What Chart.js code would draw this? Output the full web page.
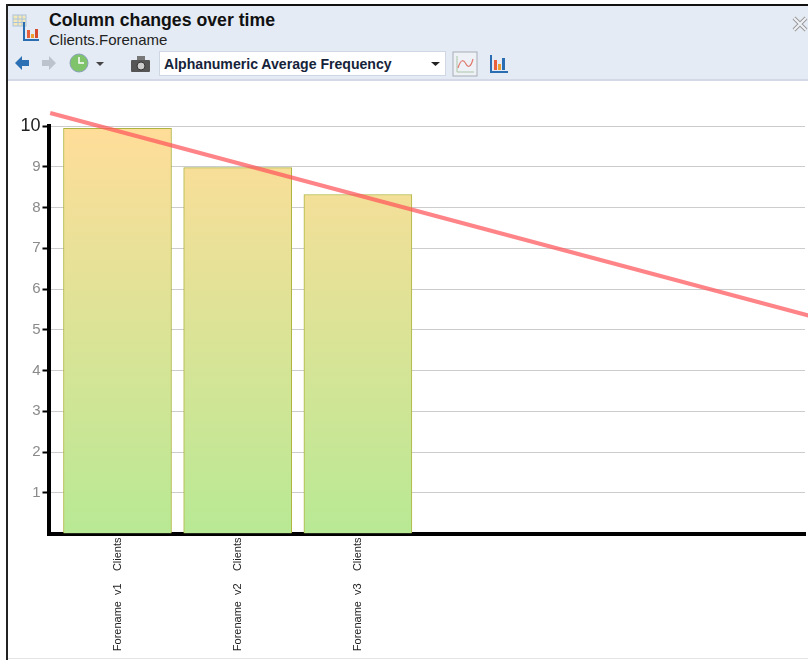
<!DOCTYPE html>
<html><head><meta charset="utf-8">
<script src="https://cdn.jsdelivr.net/npm/chart.js@4"></script>
<style>
html,body{margin:0;padding:0;background:#fff;overflow:hidden}
body{width:808px;height:660px;position:relative;font-family:"Liberation Sans",Arial,sans-serif}
#frameT{position:absolute;left:6px;top:4px;width:802px;height:2px;background:#111}
#frameL{position:absolute;left:6px;top:4px;width:2px;height:656px;background:#222}
#frameB{position:absolute;left:8px;top:658px;width:800px;height:1px;background:#e4e4e4}
#head{position:absolute;left:8px;top:6px;width:800px;height:73px;background:#e4ebf4;border-bottom:2px solid #d5d8e6}
#title{position:absolute;left:49px;top:10px;font-size:17.7px;line-height:20px;font-weight:bold;color:#111}
#sub{position:absolute;left:49px;top:31px;font-size:15px;line-height:17px;color:#222}
#sel{position:absolute;left:159px;top:51px;width:285px;height:23px;background:#fff;border:1px solid #cfd6e4;font-size:14.1px;font-weight:bold;color:#15233a;line-height:24px;text-indent:4px}
svg{position:absolute;left:0;top:0}
canvas{position:absolute;left:0;top:0}
</style></head>
<body>
<div id="frameT"></div><div id="frameL"></div><div id="head"></div><div id="frameB"></div>
<div id="title">Column changes over time</div>
<div id="sub">Clients.Forename</div>
<div id="sel">Alphanumeric Average Frequency</div>
<svg width="808" height="90" viewBox="0 0 808 90">
  <rect x="13" y="15" width="13" height="11" fill="#f6e7b8" stroke="#a9c4dc"/>
  <path d="M13 19h13M13 22.500h13M18 15v11M22 15v11" stroke="#a9c4dc" fill="none"/>
  <path d="M24 22v18h15" stroke="#2a6db0" stroke-width="2" fill="none"/>
  <rect x="27" y="30" width="3" height="8" fill="#e8603c"/><rect x="31" y="34" width="3" height="4" fill="#f0a030"/><rect x="35" y="29" width="3" height="9" fill="#d84a30"/>
  <path d="M15 63l7-7v4h7v6h-7v4z" fill="#2b6fb5"/>
  <path d="M56 63l-7-7v4h-7v6h7v4z" fill="#bcc3cc"/>
  <circle cx="79" cy="63" r="9" fill="#7fc46a" stroke="#8aa0b8"/><path d="M79 57v6h5" stroke="#fff" stroke-width="1.500" fill="none"/>
  <path d="M96 62h8l-4 4z" fill="#444"/>
  <rect x="131" y="60" width="19" height="12" rx="1" fill="#555"/><rect x="137" y="56" width="8" height="4" fill="#777"/><circle cx="141" cy="66" r="4" fill="#ccc" stroke="#333"/>
  <path d="M431 62h9l-4.500 4z" fill="#222"/>
  <rect x="453" y="52" width="24" height="24" fill="#eef2f7" stroke="#a8adb5"/>
  <path d="M457 56v16h17" stroke="#a9c4a9" fill="none"/><path d="M458 68c3-10 6-8 8-4s5 3 7-5" stroke="#e07a70" fill="none" stroke-width="1.200"/>
  <path d="M491 55v17h17" stroke="#2a6db0" stroke-width="2" fill="none"/>
  <rect x="494" y="60" width="3" height="10" fill="#e8603c"/><rect x="498" y="64" width="3" height="6" fill="#f0a030"/><rect x="502" y="58" width="3" height="12" fill="#2a6db0"/>
  <path d="M794 18l12 12M806 18l-12 12" stroke="#9a9a9a" stroke-width="4"/>
  <path d="M794 18l12 12M806 18l-12 12" stroke="#eef1f5" stroke-width="2"/>
</svg>
<canvas id="c" width="808" height="660"></canvas>
<script>
const categories = ["Forename  v1    Clients", "Forename  v2    Clients", "Forename  v3    Clients"];
const categoryX = [1, 2, 3];
const frequency = [9.94, 8.98, 8.32];
const trendX = [0.44, 6.75];
const trendY = [10.32, 5.35];
const yTicks = [1, 2, 3, 4, 5, 6, 7, 8, 9, 10];

new Chart(document.getElementById('c'), {
  type: 'bar',
  data: { datasets: [
    { type: 'line', order: 0, data: trendX.map((x, i) => ({ x, y: trendY[i] })),
      borderColor: 'rgba(255,84,90,0.72)', borderWidth: 4, pointRadius: 0, clip: false, tension: 0 },
    { type: 'bar', order: 1, data: categoryX.map((x, i) => ({ x, y: frequency[i] })),
      barThickness: 108, borderWidth: 1, borderColor: '#aeb53e',
      backgroundColor: ctx => {
        const a = ctx.chart.chartArea;
        if (!a) return '#ddd';
        const g = ctx.chart.ctx.createLinearGradient(0, a.top, 0, a.bottom);
        g.addColorStop(0, '#ffdd99');
        g.addColorStop(1, '#b8e994');
        return g;
      } }
  ] },
  options: {
    responsive: false, animation: false,
    layout: { padding: { left: 0, right: 3, top: 126, bottom: 0 } },
    plugins: { legend: { display: false }, tooltip: { enabled: false } },
    scales: {
      x: {
        type: 'linear', offset: false, min: 0.426, max: 6.72, z: 1,
        afterBuildTicks: s => { s.ticks = categoryX.map(v => ({ value: v })); },
        afterFit: s => { s.height = 126.5; },
        grid: { drawOnChartArea: false, drawTicks: false },
        border: { color: '#000', width: 4 },
        ticks: {
          autoSkip: false, minRotation: 90, maxRotation: 90, padding: 4,
          color: '#222', font: { size: 11, family: '"Liberation Sans",Arial,sans-serif' },
          callback: v => categories[categoryX.indexOf(v)] ?? ''
        }
      },
      y: {
        min: 0, max: 10,
        afterBuildTicks: s => { s.ticks = yTicks.map(v => ({ value: v })); },
        afterFit: s => { s.width = 48.5; },
        grid: { color: '#cccccc', lineWidth: 1, tickColor: '#000', tickLength: 6, tickWidth: 2 },
        border: { color: '#000', width: 4 },
        ticks: {
          padding: 2,
          color: c => c.tick && c.tick.value === 10 ? '#222' : '#8a8a8a',
          font: c => ({ size: c.tick && c.tick.value === 10 ? 18 : 15, family: '"Liberation Sans",Arial,sans-serif' }),
          callback: v => String(v)
        }
      }
    }
  }
});
</script>
</body></html>
